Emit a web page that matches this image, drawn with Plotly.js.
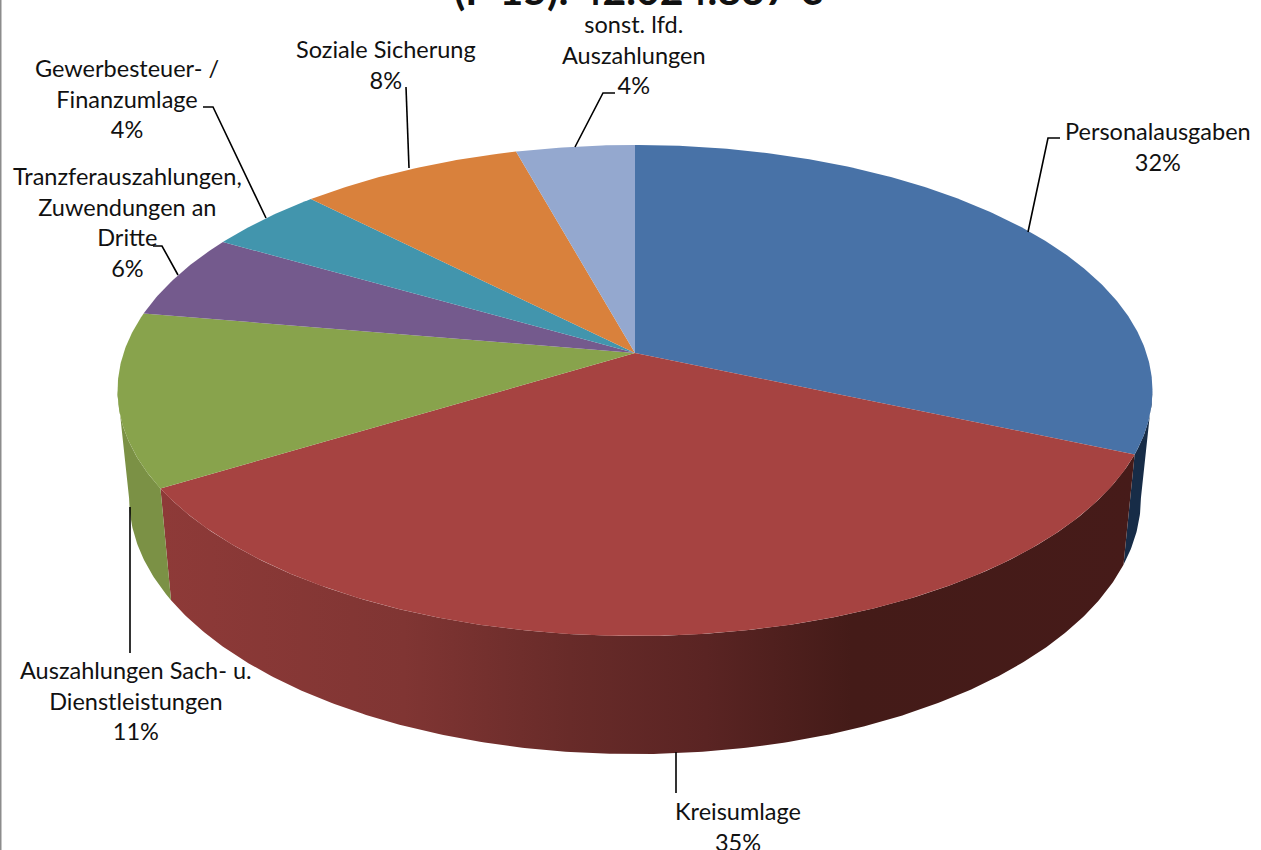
<!DOCTYPE html>
<html>
<head>
<meta charset="utf-8">
<script src="https://cdn.plot.ly/plotly-3.0.1.min.js"></script>
<style>html,body{margin:0;padding:0;background:#fff;overflow:hidden}#chart{width:1261px;height:850px}</style>
</head>
<body>
<div id="chart"></div>
<script>
// Data
const categories = ["Personalausgaben","Kreisumlage","Auszahlungen Sach- u.<br>Dienstleistungen","Tranzferauszahlungen,<br>Zuwendungen an<br>Dritte","Gewerbesteuer- /<br>Finanzumlage","Soziale Sicherung","sonst. lfd.<br>Auszahlungen"];
const values = [31.5, 34.8, 11.4, 5.6, 4.3, 8.1, 4.3];
const percentLabels = ["32%","35%","11%","6%","4%","8%","4%"];
const topColors = ["#4872A7","#A64341","#88A34C","#745A8D","#4295AD","#D9813C","#94A8CF"];
const titleText = "(P 15): 42.024.837 €";

// Label placement (pixel centre of first line) and leader lines
const labelX = [1158, 738, 136, 127, 127, 386, 634];
const labelY = [128, 808, 667, 173, 65, 46, 21];
const leaders = [
  [[1028,232],[1048,138],[1060,138]],
  [[676,752],[676,793]],
  [[130,507],[130,653]],
  [[178,275],[162,246],[153,246]],
  [[266,218],[213,107],[203,107]],
  [[409,168],[406,87]],
  [[575,147],[603,93],[615,93]]
];

// Projection of the tilted disc
const K = 0.1527;
const TOP = {cx:635, cy:353, A:511.4, B:239.8};
const BOT = {cx:635, cy:459, A:500, B:250};
function project(p, t){
  const u = Math.sin(t), v = Math.cos(t), w = 1 + K*v;
  return [p.cx + p.A*u/w, p.cy - p.B*v/w];
}
function arc(p, a, b){
  const pts = [], n = Math.max(4, Math.ceil(Math.abs(b-a)*120));
  for(let i=0;i<=n;i++) pts.push(project(p, a+(b-a)*i/n));
  return pts;
}
const total = values.reduce((s,v)=>s+v,0);
const bounds = [0];
values.forEach(v=>bounds.push(bounds[bounds.length-1]+v/total*2*Math.PI));

// Visible wall span
const rightTan = Math.PI - Math.acos(K) ;
const leftTan = Math.PI + Math.acos(K);
const wallStyles = [
  {fillcolor:"#172C47"},
  {fillgradient:{type:"horizontal",colorscale:[[0,"#8E3A38"],[0.25,"#803533"],[0.42,"#682B29"],[0.56,"#5A2423"],[0.71,"#441B18"],[1,"#461B19"]]}},
  {fillcolor:"#7B9145"}
];
const traces = [];
wallStyles.forEach((st,i)=>{
  const a = Math.max(bounds[i], rightTan), b = Math.min(bounds[i+1], leftTan);
  const pts = arc(TOP,a,b).concat(arc(BOT,b,a));
  pts.push(pts[0]);
  traces.push(Object.assign({type:"scatter",mode:"lines",x:pts.map(p=>p[0]),y:pts.map(p=>p[1]),fill:"toself",line:{width:0},hoverinfo:"skip",showlegend:false},st));
});
values.forEach((v,i)=>{
  const pts = [[TOP.cx,TOP.cy]].concat(arc(TOP,bounds[i],bounds[i+1]));
  pts.push([TOP.cx,TOP.cy]);
  traces.push({type:"scatter",mode:"lines",x:pts.map(p=>p[0]),y:pts.map(p=>p[1]),fill:"toself",fillcolor:topColors[i],line:{width:0},name:categories[i].replace(/<br>/g," "),text:percentLabels[i],hoverinfo:"name+text",showlegend:false});
});

const FONT = "Lato, 'Open Sans', sans-serif";
const annotations = categories.map((c,i)=>({
  xref:"x",yref:"y",x:labelX[i],y:labelY[i],text:c+"<br>"+percentLabels[i],
  showarrow:false,xanchor:"center",yanchor:"top",align:"center",yshift:13,
  font:{family:FONT,size:23.5,color:"#111"}
}));
annotations.push({xref:"paper",yref:"paper",x:0.506,y:1,text:"<b>"+titleText+"</b>",showarrow:false,xanchor:"center",yanchor:"middle",yshift:11,font:{family:FONT,size:41,color:"#111"}});

const shapes = leaders.map(l=>({type:"path",xref:"x",yref:"y",path:"M"+l.map(p=>p.join(",")).join("L"),line:{color:"#000",width:1.6},layer:"above"}));
shapes.push({type:"line",xref:"x",yref:"y",x0:0.5,x1:0.5,y0:0,y1:850,line:{color:"#8c8c8c",width:2}});

Plotly.newPlot("chart",traces,{
  width:1261,height:850,margin:{l:0,r:0,t:0,b:0},paper_bgcolor:"#fff",plot_bgcolor:"#fff",showlegend:false,
  xaxis:{range:[0,1261],visible:false,fixedrange:true},
  yaxis:{range:[850,0],visible:false,fixedrange:true},
  annotations,shapes
},{displayModeBar:false,staticPlot:true});
</script>
</body>
</html>
